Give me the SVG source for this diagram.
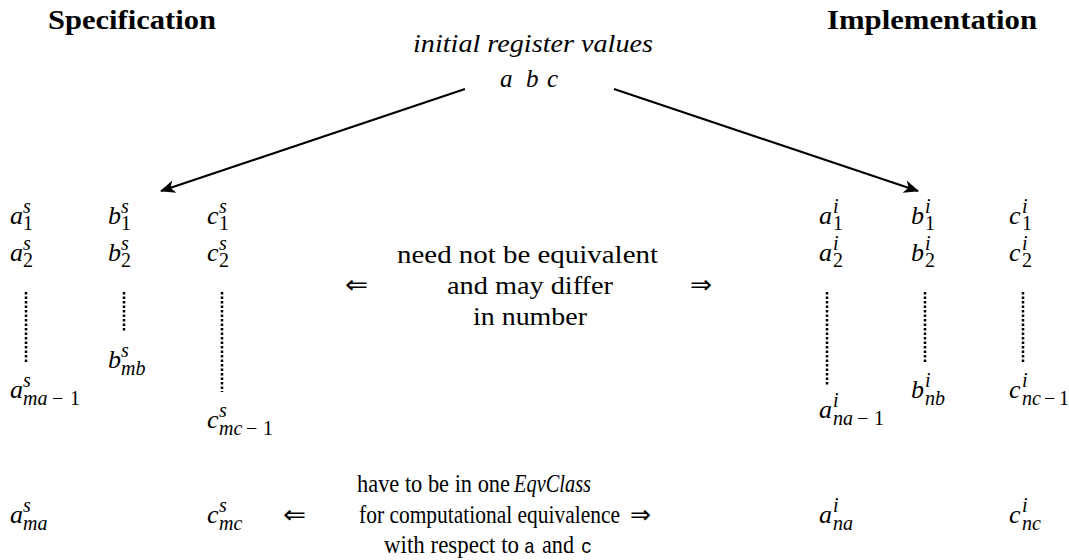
<svg xmlns="http://www.w3.org/2000/svg" width="1069" height="560" viewBox="0 0 1069 560">
<style>
text{font-family:"Liberation Serif",serif;fill:#000}
.tx{font-size:25px}
.it{font-style:italic}
.ti{font-size:27px;font-weight:bold}
.m{font-size:26px;font-style:italic}
.s{font-size:20px;font-style:italic}
.u{font-size:20px}
.tt{font-family:"Liberation Mono",monospace;font-size:21px}
.ar{font-family:"DejaVu Sans",sans-serif;font-size:25px}
.dot{stroke:#000;stroke-width:2.5;stroke-dasharray:2.5 2;fill:none}
.con{stroke:#000;stroke-width:2.2;fill:none}
</style>
<defs>
<marker id="ah" markerUnits="userSpaceOnUse" markerWidth="20" markerHeight="16" viewBox="-16 -8 18 16" refX="0" refY="0" orient="auto">
<path d="M1,0 L-14,-6.5 L-10,0 L-14,6.5 Z" fill="#000"/>
</marker>
</defs>

<g id="titles">
<text class="ti" x="48" y="29" textLength="168" lengthAdjust="spacingAndGlyphs">Specification</text>
<text class="ti" x="827" y="29" textLength="210" lengthAdjust="spacingAndGlyphs">Implementation</text>
</g>

<g id="initial">
<text class="tx it" x="413" y="52" textLength="240" lengthAdjust="spacingAndGlyphs">initial register values</text>
<text class="tx it" x="500" y="87">a</text>
<text class="tx it" x="526" y="87">b</text>
<text class="tx it" x="547" y="87">c</text>
</g>

<g id="connectors">
<line class="con" x1="465" y1="89" x2="161" y2="191" marker-end="url(#ah)"/>
<line class="con" x1="614" y1="89" x2="918" y2="191" marker-end="url(#ah)"/>
<line class="dot" x1="26" y1="292" x2="26" y2="362"/>
<line class="dot" x1="124" y1="292" x2="124" y2="332"/>
<line class="dot" x1="222" y1="292" x2="222" y2="392"/>
<line class="dot" x1="827" y1="292" x2="827" y2="385"/>
<line class="dot" x1="925" y1="292" x2="925" y2="363"/>
<line class="dot" x1="1023" y1="292" x2="1023" y2="363"/>
</g>

<!-- Specification side -->
<g id="s-a1"><text class="m" x="10" y="224">a</text><text class="s" x="23" y="213">s</text><text class="u" x="23" y="230">1</text></g>
<g id="s-b1"><text class="m" x="108" y="224">b</text><text class="s" x="121" y="213">s</text><text class="u" x="121" y="230">1</text></g>
<g id="s-c1"><text class="m" x="207" y="224">c</text><text class="s" x="219" y="213">s</text><text class="u" x="219" y="230">1</text></g>
<g id="s-a2"><text class="m" x="10" y="261">a</text><text class="s" x="23" y="250">s</text><text class="u" x="23" y="267">2</text></g>
<g id="s-b2"><text class="m" x="108" y="261">b</text><text class="s" x="121" y="250">s</text><text class="u" x="121" y="267">2</text></g>
<g id="s-c2"><text class="m" x="207" y="261">c</text><text class="s" x="219" y="250">s</text><text class="u" x="219" y="267">2</text></g>
<g id="s-ama1"><text class="m" x="10" y="398">a</text><text class="s" x="23" y="387">s</text><text class="s" x="23" y="405">ma</text><text class="u" x="52" y="405">−</text><text class="u" x="70" y="405">1</text></g>
<g id="s-bmb"><text class="m" x="108" y="368">b</text><text class="s" x="121" y="357">s</text><text class="s" x="121" y="375">mb</text></g>
<g id="s-cmc1"><text class="m" x="207" y="428">c</text><text class="s" x="219" y="417">s</text><text class="s" x="219" y="435">mc</text><text class="u" x="246" y="435">−</text><text class="u" x="263" y="435">1</text></g>
<g id="s-ama"><text class="m" x="10" y="523">a</text><text class="s" x="23" y="512">s</text><text class="s" x="23" y="530">ma</text></g>
<g id="s-cmc"><text class="m" x="207" y="523">c</text><text class="s" x="219" y="512">s</text><text class="s" x="219" y="530">mc</text></g>

<!-- Implementation side -->
<g id="i-a1"><text class="m" x="819" y="224">a</text><text class="s" x="833" y="213">i</text><text class="u" x="833" y="230">1</text></g>
<g id="i-b1"><text class="m" x="911" y="224">b</text><text class="s" x="925" y="213">i</text><text class="u" x="925" y="230">1</text></g>
<g id="i-c1"><text class="m" x="1009" y="224">c</text><text class="s" x="1022" y="213">i</text><text class="u" x="1022" y="230">1</text></g>
<g id="i-a2"><text class="m" x="819" y="261">a</text><text class="s" x="833" y="250">i</text><text class="u" x="833" y="267">2</text></g>
<g id="i-b2"><text class="m" x="911" y="261">b</text><text class="s" x="925" y="250">i</text><text class="u" x="925" y="267">2</text></g>
<g id="i-c2"><text class="m" x="1009" y="261">c</text><text class="s" x="1022" y="250">i</text><text class="u" x="1022" y="267">2</text></g>
<g id="i-ana1"><text class="m" x="819" y="418">a</text><text class="s" x="833" y="407">i</text><text class="s" x="833" y="425">na</text><text class="u" x="857" y="425">−</text><text class="u" x="874" y="425">1</text></g>
<g id="i-bnb"><text class="m" x="911" y="398">b</text><text class="s" x="925" y="387">i</text><text class="s" x="925" y="405">nb</text></g>
<g id="i-cnc1"><text class="m" x="1009" y="398">c</text><text class="s" x="1022" y="387">i</text><text class="s" x="1022" y="405">nc</text><text class="u" x="1044" y="405">−</text><text class="u" x="1059" y="405">1</text></g>
<g id="i-ana"><text class="m" x="819" y="523">a</text><text class="s" x="833" y="512">i</text><text class="s" x="833" y="530">na</text></g>
<g id="i-cnc"><text class="m" x="1009" y="523">c</text><text class="s" x="1022" y="512">i</text><text class="s" x="1022" y="530">nc</text></g>

<g id="note-middle">
<text class="ar" x="345" y="293" textLength="23" lengthAdjust="spacingAndGlyphs">⇐</text>
<text class="tx" x="397" y="263" textLength="261" lengthAdjust="spacingAndGlyphs">need not be equivalent</text>
<text class="tx" x="447" y="294" textLength="166" lengthAdjust="spacingAndGlyphs">and may differ</text>
<text class="tx" x="473" y="325" textLength="114" lengthAdjust="spacingAndGlyphs">in number</text>
<text class="ar" x="690" y="293" textLength="22" lengthAdjust="spacingAndGlyphs">⇒</text>
</g>

<g id="note-bottom">
<text class="ar" x="283" y="523" textLength="23" lengthAdjust="spacingAndGlyphs">⇐</text>
<text class="tx" x="357" y="492" textLength="153" lengthAdjust="spacingAndGlyphs">have to be in one</text>
<text class="tx it" x="514" y="492" textLength="77" lengthAdjust="spacingAndGlyphs">EqvClass</text>
<text class="tx" x="359" y="523" textLength="261" lengthAdjust="spacingAndGlyphs">for computational equivalence</text>
<text class="ar" x="630" y="523" textLength="21" lengthAdjust="spacingAndGlyphs">⇒</text>
<text class="tx" x="384" y="553" textLength="135" lengthAdjust="spacingAndGlyphs">with respect to</text>
<text class="tt" x="524" y="553" textLength="11" lengthAdjust="spacingAndGlyphs">a</text>
<text class="tx" x="542" y="553" textLength="32" lengthAdjust="spacingAndGlyphs">and</text>
<text class="tt" x="581" y="553" textLength="11" lengthAdjust="spacingAndGlyphs">c</text>
</g>
</svg>
